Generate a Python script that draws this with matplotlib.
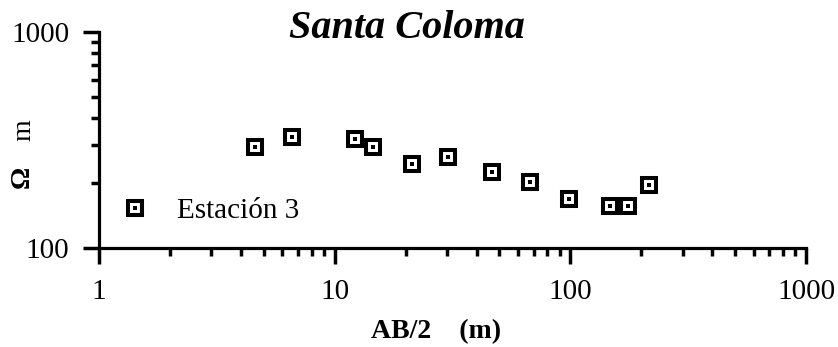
import matplotlib
matplotlib.use("Agg")
import matplotlib.pyplot as plt
from matplotlib.ticker import LogLocator, FixedLocator, FixedFormatter, NullFormatter

# Data
ab2 = [4.6, 6.6, 12.2, 14.6, 21.2, 30.4, 46.7, 67.7, 99, 148, 176, 216]
rho = [293, 326, 320, 293, 245, 264, 225, 202, 169, 156, 156, 196]
series_label = "Estación 3"
x_ticks = [1, 10, 100, 1000]
x_tick_labels = ["1", "10", "100", "1000"]
y_ticks = [100, 1000]
y_tick_labels = ["100", "1000"]
title = "Santa Coloma"
xlabel = "AB/2    (m)"

serif = ["Liberation Serif", "DejaVu Serif"]
plt.rcParams["font.family"] = serif

W, H = 838, 347
fig = plt.figure(figsize=(W / 100, H / 100), dpi=100)
ax = fig.add_axes([99 / W, 1 - 248 / H, (806 - 99) / W, (248 - 32) / H])

ax.set_xscale("log")
ax.set_yscale("log")
ax.set_xlim(1, 1000)
ax.set_ylim(100, 1000)

h1, = ax.plot(ab2, rho, linestyle="none", marker="s", markersize=9.7,
              markerfacecolor="white", markeredgecolor="black",
              markeredgewidth=2.9, zorder=3)
h2, = ax.plot(ab2, rho, linestyle="none", marker="s", markersize=2.5,
              markerfacecolor="black", markeredgewidth=0, zorder=4)

for s in ["top", "right"]:
    ax.spines[s].set_visible(False)
for s in ["left", "bottom"]:
    ax.spines[s].set_linewidth(2.3)

ax.xaxis.set_major_locator(FixedLocator(x_ticks))
ax.xaxis.set_major_formatter(FixedFormatter(x_tick_labels))
ax.xaxis.set_minor_locator(LogLocator(base=10, subs=range(2, 10)))
ax.xaxis.set_minor_formatter(NullFormatter())
ax.yaxis.set_major_locator(FixedLocator(y_ticks))
ax.yaxis.set_major_formatter(FixedFormatter(y_tick_labels))
ax.yaxis.set_minor_locator(LogLocator(base=10, subs=range(2, 10)))
ax.yaxis.set_minor_formatter(NullFormatter())

ax.tick_params(which="major", direction="out", length=11.5, width=2.5,
               labelsize=21)
ax.tick_params(which="minor", direction="out", length=6, width=2.5)
ax.tick_params(axis="x", which="major", pad=11)
ax.tick_params(axis="y", which="major", pad=10)

leg = ax.legend([(h1, h2)], [series_label], loc="center left",
                bbox_to_anchor=(0.030, 0.17), frameon=False,
                fontsize=21, handlelength=1.0, handletextpad=0.95,
                borderpad=0, borderaxespad=0, numpoints=1)

fig.text(407 / W, 1 - 38 / H, title, ha="center", va="baseline",
         fontsize=29, fontweight="bold", fontstyle="italic", family=serif)
fig.text(436 / W, 1 - 338 / H, xlabel, ha="center", va="baseline",
         fontsize=20, fontweight="bold", family=serif)
fig.text(22 / W, 1 - 177 / H, "Ω", rotation=90, ha="center", va="center",
         fontsize=20, fontweight="bold", family=serif)
fig.text(24 / W, 1 - 130 / H, "m", rotation=90, ha="center", va="center",
         fontsize=20, family=serif)

fig.savefig("out.png", dpi=100, facecolor="white")
